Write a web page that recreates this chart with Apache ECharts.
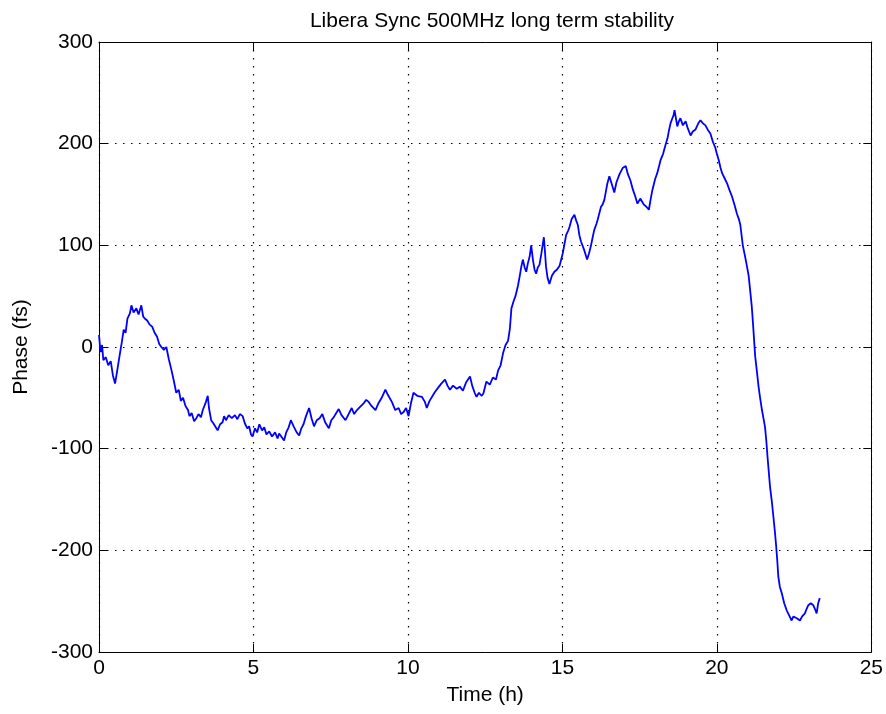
<!DOCTYPE html>
<html>
<head>
<meta charset="utf-8">
<script src="https://cdn.jsdelivr.net/npm/echarts@6/dist/echarts.min.js"></script>
<style>
  html, body { margin: 0; padding: 0; background: #fff; }
  #chart { width: 886px; height: 714px; }
</style>
</head>
<body>
<div id="chart"></div>
<script>
// time (h) and phase (fs)
const timeH = [
  0.00, 0.05, 0.10, 0.14, 0.22, 0.30, 0.38, 0.45, 0.52, 0.58, 0.68, 0.74, 0.80, 0.86, 0.92, 1.00,
  1.05, 1.12, 1.21, 1.28, 1.37, 1.43, 1.48, 1.56, 1.64, 1.72, 1.80, 1.88, 1.95, 2.02, 2.10, 2.18,
  2.26, 2.34, 2.42, 2.50, 2.58, 2.65, 2.72, 2.80, 2.88, 2.93, 3.00, 3.08, 3.15, 3.22, 3.30, 3.36,
  3.45, 3.52, 3.56, 3.63, 3.70, 3.78, 3.84, 3.92, 4.00, 4.05, 4.11, 4.20, 4.30, 4.40, 4.48, 4.56,
  4.65, 4.72, 4.80, 4.86, 4.92, 4.97, 5.05, 5.12, 5.19, 5.28, 5.35, 5.42, 5.51, 5.60, 5.70, 5.78,
  5.83, 5.90, 5.99, 6.06, 6.14, 6.21, 6.30, 6.40, 6.48, 6.55, 6.62, 6.70, 6.80, 6.88, 6.96, 7.05,
  7.14, 7.23, 7.32, 7.44, 7.52, 7.60, 7.68, 7.76, 7.85, 7.98, 8.08, 8.18, 8.26, 8.35, 8.45, 8.55,
  8.65, 8.73, 8.82, 8.95, 9.05, 9.15, 9.27, 9.35, 9.48, 9.59, 9.70, 9.78, 9.86, 9.94, 10.02, 10.10,
  10.18, 10.30, 10.45, 10.55, 10.61, 10.70, 10.80, 10.88, 10.98, 11.08, 11.20, 11.28, 11.36, 11.46, 11.58, 11.68,
  11.78, 11.88, 12.01, 12.08, 12.16, 12.22, 12.30, 12.38, 12.44, 12.54, 12.65, 12.75, 12.85, 12.92, 13.00, 13.08,
  13.16, 13.24, 13.30, 13.35, 13.42, 13.48, 13.56, 13.62, 13.67, 13.72, 13.78, 13.83, 13.88, 13.94, 13.99, 14.05,
  14.10, 14.15, 14.20, 14.26, 14.32, 14.40, 14.44, 14.47, 14.52, 14.58, 14.66, 14.74, 14.82, 14.91, 15.01, 15.06,
  15.12, 15.18, 15.23, 15.30, 15.39, 15.45, 15.50, 15.55, 15.60, 15.71, 15.80, 15.86, 15.92, 15.98, 16.03, 16.10,
  16.14, 16.20, 16.25, 16.30, 16.36, 16.45, 16.52, 16.60, 16.68, 16.75, 16.85, 16.95, 17.05, 17.12, 17.20, 17.28,
  17.36, 17.43, 17.52, 17.64, 17.72, 17.80, 17.86, 17.91, 18.00, 18.07, 18.13, 18.18, 18.26, 18.34, 18.40, 18.45,
  18.50, 18.56, 18.60, 18.63, 18.68, 18.72, 18.77, 18.82, 18.90, 18.99, 19.06, 19.15, 19.22, 19.31, 19.40, 19.47,
  19.55, 19.63, 19.70, 19.79, 19.87, 19.95, 20.00, 20.06, 20.12, 20.17, 20.25, 20.33, 20.40, 20.49, 20.57, 20.65,
  20.72, 20.76, 20.84, 20.92, 20.97, 21.03, 21.08, 21.13, 21.17, 21.24, 21.30, 21.35, 21.40, 21.46, 21.52, 21.56,
  21.60, 21.64, 21.72, 21.78, 21.83, 21.88, 21.92, 21.96, 21.99, 22.04, 22.10, 22.18, 22.26, 22.34, 22.42, 22.48,
  22.53, 22.60, 22.69, 22.76, 22.85, 22.90, 22.96, 23.04, 23.12, 23.18, 23.23, 23.28, 23.33
]
const phaseFs = [
  12, -5, 2, -13, -10, -18, -14, -28, -36, -25, -6, 5, 17, 14, 28, 33,
  41, 34, 38, 32, 41, 30, 28, 26, 22, 20, 14, 10, 3, 0, -3, 0,
  -12, -22, -33, -45, -42, -53, -50, -58, -62, -68, -65, -73, -70, -66, -69, -62,
  -55, -48, -60, -72, -75, -79, -82, -76, -74, -68, -72, -67, -70, -67, -71, -66,
  -68, -75, -80, -78, -86, -88, -80, -84, -76, -82, -79, -86, -83, -88, -84, -90,
  -85, -88, -92, -84, -79, -72, -78, -84, -87, -80, -76, -68, -60, -70, -78, -72,
  -70, -66, -74, -80, -72, -69, -65, -61, -67, -72, -66, -60, -66, -62, -59, -56,
  -52, -54, -58, -62, -55, -50, -42, -47, -54, -62, -60, -66, -64, -60, -68, -55,
  -45, -48, -49, -54, -60, -53, -48, -44, -40, -36, -32, -38, -42, -38, -41, -39,
  -43, -35, -29, -38, -45, -49, -45, -48, -46, -34, -37, -30, -32, -23, -18, -6,
  2, 6, 18, 38, 45, 50, 60, 70, 79, 86, 78, 74, 82, 89, 100, 85,
  76, 72, 78, 81, 92, 108, 92, 79, 68, 62, 70, 74, 76, 80, 92, 100,
  110, 114, 118, 126, 130, 124, 120, 110, 104, 95, 86, 92, 99, 108, 115, 121,
  125, 132, 138, 140, 145, 160, 168, 160, 152, 162, 170, 176, 178, 170, 164, 155,
  148, 141, 146, 140, 138, 135, 146, 154, 165, 171, 178, 184, 190, 199, 205, 213,
  220, 225, 228, 233, 224, 217, 222, 225, 218, 222, 215, 208, 212, 214, 220, 223,
  220, 218, 214, 210, 202, 196, 190, 184, 176, 171, 166, 161, 155, 148, 140, 131,
  125, 120, 100, 88, 80, 70, 55, 40, 23, -9, -25, -39, -50, -62, -72, -79,
  -92, -108, -137, -152, -167, -182, -196, -212, -226, -236, -242, -252, -259, -264, -269, -265,
  -264, -267, -269, -265, -262, -258, -254, -252, -254, -258, -262, -252, -247
]
const xTicks = [0, 25, 5]      // min, max, step
const yTicks = [-300, 300, 100]

const chart = echarts.init(document.getElementById('chart'))

const fontName = 'Liberation Sans'
const gridLine = { show: true, lineStyle: { color: '#000', type: [1.5, 6.5], width: 1.2 } }
// box round the plot; onZero off so every axis sits on the plot edge
const boxLine = { show: true, onZero: false, lineStyle: { color: '#000', width: 1 } }
const tickIn = { show: true, inside: true, length: 8, lineStyle: { color: '#000', width: 1 } }

const option = {
  animation: false,
  backgroundColor: '#fff',
  title: {
    text: 'Libera Sync 500MHz long term stability',
    left: 487,
    top: 6,
    textAlign: 'center',
    textStyle: { fontFamily: fontName, fontSize: 21, fontWeight: 'normal', color: '#000' }
  },
  grid: { left: 99, right: 11, top: 42, bottom: 62 },
  xAxis: [
    {
      type: 'value', min: xTicks[0], max: xTicks[1], interval: xTicks[2],
      name: 'Time (h)', nameLocation: 'middle', nameGap: 33,
      nameTextStyle: { fontFamily: fontName, fontSize: 21, color: '#000' },
      axisLine: boxLine, axisTick: tickIn, splitLine: gridLine,
      axisLabel: { fontFamily: fontName, fontSize: 21, color: '#000', margin: 6 }
    },
    {
      type: 'value', position: 'top', min: xTicks[0], max: xTicks[1], interval: xTicks[2],
      axisLine: boxLine, axisTick: tickIn, splitLine: { show: false }, axisLabel: { show: false }
    }
  ],
  yAxis: [
    {
      type: 'value', min: yTicks[0], max: yTicks[1], interval: yTicks[2],
      name: 'Phase (fs)', nameLocation: 'middle', nameGap: 67, nameRotate: 90,
      nameTextStyle: { fontFamily: fontName, fontSize: 21, color: '#000' },
      axisLine: boxLine, axisTick: tickIn, splitLine: gridLine,
      axisLabel: { fontFamily: fontName, fontSize: 21, color: '#000', margin: 6 }
    },
    {
      type: 'value', position: 'right', min: yTicks[0], max: yTicks[1], interval: yTicks[2],
      axisLine: boxLine, axisTick: tickIn, splitLine: { show: false }, axisLabel: { show: false }
    }
  ],
  series: [
    {
      type: 'line',
      data: timeH.map((t, i) => [t, phaseFs[i]]),
      showSymbol: false,
      lineStyle: { color: '#0000ff', width: 1.8 }
    }
  ]
}

chart.setOption(option)
</script>
</body>
</html>
